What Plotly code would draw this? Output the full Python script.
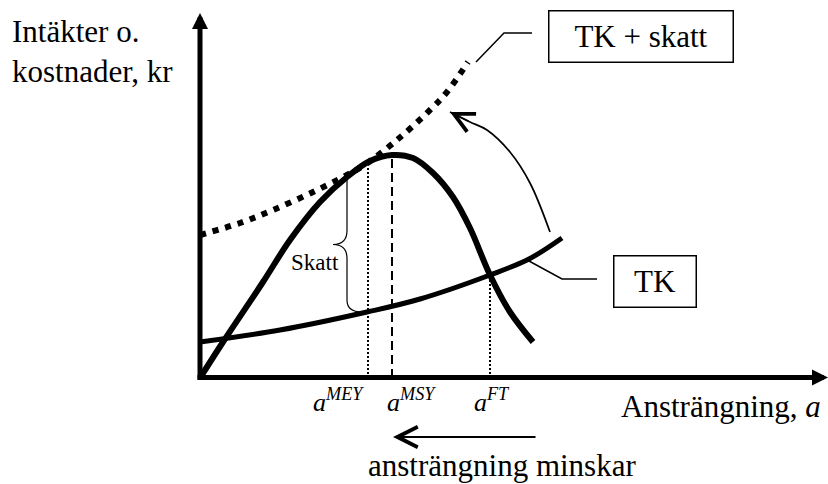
import plotly.graph_objects as go

# Effort (x) and kronor (y), arbitrary units
tr_effort = [0, 2.3, 6.3, 9.0, 12.0, 14.7, 17.0, 19.2, 21.3, 23.3, 25.3, 27.0, 29.0, 31.0, 33.3]
tr_value = [0, 3.6, 9.6, 13.8, 17.6, 20.1, 21.7, 22.3, 22.0, 20.5, 18.1, 15.0, 10.3, 6.6, 3.6]

tk_effort = [0, 8.0, 16.7, 22.0, 29.0, 32.9, 36.2]
tk_value = [3.6, 4.8, 6.6, 7.9, 10.3, 11.9, 14.0]

tks_effort = [0, 4.0, 7.3, 11.3, 14.7, 16.3, 19.7, 23.0, 24.7, 26.8]
tks_value = [14.3, 15.5, 16.8, 18.6, 20.3, 21.2, 23.8, 26.8, 28.6, 31.6]

# reference effort levels and the curve height where their guide line stops
a_mey, a_msy, a_ft = 16.8, 19.2, 29.0
top_mey, top_msy, top_ft = 21.0, 22.3, 10.3

# curved arrow (tax shifts cost curve up)
shift_x = [35.0, 33.0, 31.0, 28.7, 27.0, 25.0]
shift_y = [14.6, 19.5, 22.6, 24.8, 25.6, 26.6]

# leader lines to the boxed labels
lead_tks_x = [27.6, 30.4, 33.2]
lead_tks_y = [31.6, 34.5, 34.5]
lead_tk_x = [32.9, 36.2, 39.7]
lead_tk_y = [11.7, 9.9, 9.9]

# brace marking the tax between TK and revenue at a_MEY
brace_x, brace_top, brace_bot = 14.7, 20.1, 6.6

FONT = "Liberation Serif"

fig = go.Figure()

fig.add_trace(go.Scatter(x=tks_effort, y=tks_value, mode="lines",
                         line=dict(color="black", width=6, dash="6px,7px", shape="spline")))
fig.add_trace(go.Scatter(x=tr_effort, y=tr_value, mode="lines",
                         line=dict(color="black", width=6, shape="spline")))
fig.add_trace(go.Scatter(x=tk_effort, y=tk_value, mode="lines",
                         line=dict(color="black", width=5, shape="spline")))

# guide lines down to the effort axis
fig.add_trace(go.Scatter(x=[a_mey, a_mey], y=[0, top_mey], mode="lines",
                         line=dict(color="black", width=2, dash="2px,2px")))
fig.add_trace(go.Scatter(x=[a_msy, a_msy], y=[0, top_msy], mode="lines",
                         line=dict(color="black", width=2, dash="9px,5px")))
fig.add_trace(go.Scatter(x=[a_ft, a_ft], y=[0, top_ft], mode="lines",
                         line=dict(color="black", width=2, dash="2px,2px")))

fig.add_trace(go.Scatter(x=shift_x, y=shift_y, mode="lines",
                         line=dict(color="black", width=1.7, shape="spline")))
fig.add_trace(go.Scatter(x=lead_tks_x, y=lead_tks_y, mode="lines",
                         line=dict(color="black", width=1.5)))
fig.add_trace(go.Scatter(x=lead_tk_x, y=lead_tk_y, mode="lines",
                         line=dict(color="black", width=1.5)))

# curly brace
mid = (brace_top + brace_bot) / 2
tip = brace_x - 1.4
hook = brace_x + 1.5
brace_path = (f"M {brace_x},{brace_top} L {brace_x},{mid + 1.4} "
              f"Q {brace_x},{mid} {tip},{mid} Q {brace_x},{mid} {brace_x},{mid - 1.4} "
              f"L {brace_x},{brace_bot + 1.2} Q {brace_x},{brace_bot} {hook},{brace_bot}")
fig.add_shape(type="path", path=brace_path, line=dict(color="black", width=1.2))

ann = []
# axes with arrow heads
ann.append(dict(x=0, y=36.5, ax=0, ay=-0.3, axref="x", ayref="y", text="",
                showarrow=True, arrowhead=2, arrowwidth=5, arrowsize=0.64, arrowcolor="black"))
ann.append(dict(x=62.8, y=0.05, ax=-0.4, ay=0.05, axref="x", ayref="y", text="",
                showarrow=True, arrowhead=2, arrowwidth=5, arrowsize=0.64, arrowcolor="black"))
# "effort decreases" arrow
ann.append(dict(x=19.3, y=-5.9, ax=33.7, ay=-5.9, axref="x", ayref="y", text="",
                showarrow=True, arrowhead=5, arrowwidth=2, arrowsize=2, arrowcolor="black"))
# head of the curved arrow
ann.append(dict(x=shift_x[-1], y=shift_y[-1], ax=20, ay=10, text="",
                showarrow=True, arrowhead=5, arrowwidth=1.5, arrowsize=2.6, arrowcolor="black"))

txt = dict(showarrow=False, font=dict(family=FONT, size=31, color="black"))
ann.append(dict(x=-19.0, y=32.7, xanchor="left", yanchor="middle", align="left",
                text="Intäkter o.<br>kostnader, kr", **txt))
ann.append(dict(x=62.3, y=-2.8, xanchor="right", yanchor="middle",
                text="Ansträngning, <i>a</i>", **txt))
ann.append(dict(x=30.2, y=-8.7, xanchor="center", yanchor="middle",
                text="ansträngning minskar", **txt))
ann.append(dict(x=44.05, y=34.2, text="TK + skatt", width=183, height=50,
                bordercolor="black", borderwidth=1.5, borderpad=0, **txt))
ann.append(dict(x=45.45, y=9.7, text="TK", width=81, height=50,
                bordercolor="black", borderwidth=1.5, borderpad=0, **txt))

small = dict(showarrow=False, font=dict(family=FONT, size=26, color="black"))
for xpos, sup in [(13.8, "MEY"), (21.1, "MSY"), (29.2, "FT")]:
    ann.append(dict(x=xpos, y=-2.2, xanchor="center", yanchor="middle",
                    text=f"<i>a</i><sup><i>{sup}</i></sup>", **small))
ann.append(dict(x=11.5, y=11.6, text="Skatt", showarrow=False,
                font=dict(family=FONT, size=23, color="black")))

fig.update_layout(
    width=828, height=484,
    margin=dict(l=0, r=0, t=0, b=0),
    paper_bgcolor="white", plot_bgcolor="white",
    showlegend=False,
    xaxis=dict(range=[-20, 62.8], visible=False),
    yaxis=dict(range=[-10.6, 37.8], visible=False),
    annotations=ann,
)

# page body has a default 8px margin; drop it so the figure fills the window
fig.write_html("out.html", config={"displayModeBar": False},
               post_script="document.body.style.margin='0';")
